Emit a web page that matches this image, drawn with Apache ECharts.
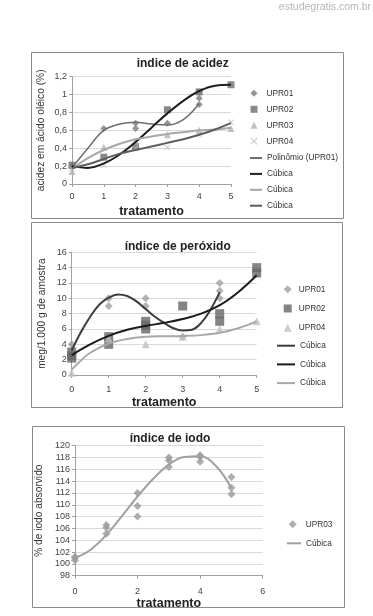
<!DOCTYPE html>
<html><head><meta charset="utf-8">
<script src="https://cdn.jsdelivr.net/npm/echarts@6/dist/echarts.min.js"></script>
<style>html,body{margin:0;padding:0;background:#fff}#c{width:373px;height:616px}</style>
</head><body><div id="c"></div>
<script>
// ---------- Chart 1: índice de acidez ----------
const acidUPR01 = [[0,0.19],[1,0.62],[2,0.68],[2,0.62],[3,0.68],[4,0.96],[4,0.89]];
const acidUPR02 = [[0,0.21],[1,0.30],[2,0.42],[3,0.83],[4,1.03],[5,1.11]];
const acidUPR03 = [[0,0.14],[1,0.41],[2,0.48],[3,0.55],[4,0.60],[5,0.62]];
const acidUPR04 = [[0,0.17],[1,0.21],[2,0.40],[3,0.41],[4,0.55],[5,0.69]];
const acidFitUPR01 = [[0,0.18],[0.5,0.40],[1,0.60],[1.5,0.67],[2,0.69],[2.5,0.67],[3,0.66],[3.5,0.72],[4,0.90]];
const acidFitUPR02 = [[0,0.20],[0.5,0.18],[1,0.23],[1.5,0.33],[2,0.47],[2.5,0.63],[3,0.79],[3.5,0.93],[4,1.04],[4.5,1.10],[5,1.11]];
const acidFitUPR03 = [[0,0.17],[0.5,0.29],[1,0.38],[1.5,0.45],[2,0.50],[2.5,0.53],[3,0.56],[3.5,0.58],[4,0.60],[4.5,0.61],[5,0.63]];
const acidFitUPR04 = [[0,0.18],[0.5,0.22],[1,0.28],[1.5,0.34],[2,0.38],[2.5,0.42],[3,0.46],[3.5,0.50],[4,0.55],[4.5,0.61],[5,0.68]];

// ---------- Chart 2: índice de peróxido ----------
const peroxUPR01 = [[0,4],[1,10],[1,9],[2,10],[2,9],[3,5],[4,12],[4,11],[4,10]];
const peroxUPR02 = [[0,3],[0,2.5],[0,2.2],[1,5],[1,4],[2,7],[2,6.5],[2,6],[3,9],[4,8],[4,7],[5,14],[5,13.3]];
const peroxUPR04 = [[0,0.3],[1,4.8],[2,4],[3,5],[4,6],[5,7]];
const peroxFitUPR01 = [[0,3.2],[0.25,5.6],[0.5,7.6],[0.75,9.2],[1,10.1],[1.25,10.5],[1.5,10.3],[1.75,9.6],[2,8.6],[2.25,7.6],[2.5,6.8],[2.75,6.1],[3,5.8],[3.25,5.9],[3.5,6.8],[3.75,8.5],[4,10.8]];
const peroxFitUPR02 = [[0,2.6],[0.5,4.0],[1,5.1],[1.5,5.9],[2,6.4],[2.5,6.8],[3,7.3],[3.5,8.0],[4,9.1],[4.5,10.8],[5,13.0]];
const peroxFitUPR04 = [[0,0.7],[0.25,1.9],[0.5,2.9],[1,4.1],[1.5,4.7],[2,5.0],[2.5,5.05],[3,5.1],[3.5,5.2],[4,5.5],[4.5,6.1],[5,7.0]];

// ---------- Chart 3: índice de iodo ----------
const iodoUPR03 = [[0,101.2],[0,100.6],[0,101.0],[1,106.6],[1,106.1],[1,105.1],[2,112],[2,109.8],[2,108],[3,118],[3,117.5],[3,116.4],[4,118.4],[4,118.1],[4,117.3],[5,114.7],[5,112.9],[5,111.8]];
const iodoFit = [[0,101],[0.5,102.4],[1,104.9],[1.5,108.1],[2,111.4],[2.5,114.4],[3,116.8],[3.5,118.1],[4,118.2],[4.5,116.6],[5,112.8]];

// tick settings
const acidYTicks = {min:0, max:1.2, interval:0.2};
const peroxYTicks = {min:0, max:16, interval:2};
const iodoYTicks = {min:98, max:120, interval:2};

const FONT = 'Liberation Sans, Arial, sans-serif';
const crossPath = 'path://M0,1 L1,0 L5,4 L9,0 L10,1 L6,5 L10,9 L9,10 L5,6 L1,10 L0,9 L4,5 Z';

function xAx(gi, max, interval, gap, margin){
  return {type:'value', gridIndex:gi, min:0, max:max, interval:interval,
    name:'tratamento', nameLocation:'middle', nameGap:gap,
    nameTextStyle:{fontFamily:FONT, fontSize:12.5, fontWeight:'bold', color:'#222'},
    axisLine:{show:true, onZero:false, lineStyle:{color:'#a0a0a0'}},
    axisTick:{show:true, length:3, lineStyle:{color:'#a0a0a0'}},
    axisLabel:{fontFamily:FONT, fontSize:9, color:'#444', margin:margin},
    splitLine:{show:false}};
}
function yAx(gi, t, name, gap, fmt){
  return {type:'value', gridIndex:gi, min:t.min, max:t.max, interval:t.interval,
    name:name, nameLocation:'middle', nameGap:gap,
    nameTextStyle:{fontFamily:FONT, fontSize:10.2, color:'#333'},
    axisLine:{show:true, lineStyle:{color:'#a0a0a0'}},
    axisTick:{show:true, length:3, lineStyle:{color:'#a0a0a0'}},
    axisLabel:{fontFamily:FONT, fontSize:9, color:'#444', margin:5, formatter:fmt},
    splitLine:{show:true, lineStyle:{color:'#d9d9d9'}}};
}
function sc(name, gi, data, symbol, size, color){
  return {type:'scatter', name:name, xAxisIndex:gi, yAxisIndex:gi, data:data,
    symbol:symbol, symbolSize:size, itemStyle:{color:color}};
}
function ln(name, gi, data, color, w){
  return {type:'line', name:name, xAxisIndex:gi, yAxisIndex:gi, data:data,
    smooth:0.4, symbol:'none', showSymbol:false, lineStyle:{color:color, width:w}, itemStyle:{color:color}};
}
const legFmt = n => n.trim();
function legMarks(left, top, size, gap, pad, names){
  return {orient:'vertical', left:left, top:top, padding:0, itemWidth:size, itemHeight:size, itemGap:gap,
    textStyle:{fontFamily:FONT, fontSize:8.3, color:'#333', lineHeight:12, padding:[0,0,0,pad]},
    formatter:legFmt, data:names};
}
function legLines(left, top, w, gap, names){
  return {orient:'vertical', left:left, top:top, padding:0, itemWidth:w, itemHeight:2, itemGap:gap, icon:'rect',
    textStyle:{fontFamily:FONT, fontSize:8.3, color:'#333', lineHeight:12},
    formatter:legFmt, data:names};
}

const option = {
  backgroundColor:'#ffffff',
  animation:false,
  grid:[
    {left:72, top:76.7, width:159, height:107.3},
    {left:71.7, top:252.3, width:185, height:122.7},
    {left:75, top:445.7, width:187.7, height:130}
  ],
  xAxis:[ xAx(0,5,1,21,8), xAx(1,5,1,21,10), xAx(2,6,2,20,11) ],
  yAxis:[
    yAx(0, acidYTicks, 'acidez em ácido oléico (%)', 26, v => String(+v.toFixed(1)).replace('.', ',')),
    yAx(1, peroxYTicks, 'meg/1.000 g de amostra', 25),
    yAx(2, iodoYTicks, '% de iodo absorvido', 28)
  ],
  legend:[
    legMarks(250.5, 87.3, 7, 4, 4, ['UPR01','UPR02','UPR03','UPR04']),
    legLines(250, 152, 12, 3.9, ['Polinômio (UPR01)','Cúbica','Cúbica ','Cúbica  ']),
    legMarks(283.7, 283.3, 8, 7.2, 2, ['UPR01 ','UPR02 ','UPR04 ']),
    legLines(277, 339.7, 18, 6.7, ['Cúbica   ','Cúbica    ','Cúbica     ']),
    legMarks(288.7, 518.3, 8, 7, 4, ['UPR03 ']),
    legLines(287, 537.3, 14, 7, ['Cúbica      '])
  ],
  graphic:[
    {type:'rect', z:-1, shape:{x:31.5, y:52.5, width:312, height:166}, style:{fill:'#fff', stroke:'#8a8a8a', lineWidth:1}},
    {type:'rect', z:-1, shape:{x:31.5, y:222.5, width:311, height:185}, style:{fill:'#fff', stroke:'#8a8a8a', lineWidth:1}},
    {type:'rect', z:-1, shape:{x:32.5, y:426.5, width:312, height:181}, style:{fill:'#fff', stroke:'#8a8a8a', lineWidth:1}},
    {type:'text', x:182.7, y:63.5, style:{text:'indice de acidez', font:'bold 12px '+FONT, fill:'#222', textAlign:'center', textVerticalAlign:'middle'}},
    {type:'text', x:177.7, y:247, style:{text:'índice de peróxido', font:'bold 12px '+FONT, fill:'#222', textAlign:'center', textVerticalAlign:'middle'}},
    {type:'text', x:170, y:438.5, style:{text:'índice de iodo', font:'bold 12px '+FONT, fill:'#222', textAlign:'center', textVerticalAlign:'middle'}},
    {type:'text', x:371, y:7, style:{text:'estudegratis.com.br', font:'10.5px '+FONT, fill:'#b5b5b5', textAlign:'right', textVerticalAlign:'middle'}}
  ],
  series:[
    sc('UPR01',0,acidUPR01,'diamond',7,'#7a7a7a'),
    sc('UPR02',0,acidUPR02,'rect',7,'#6b6b6b'),
    sc('UPR03',0,acidUPR03,'triangle',7,'#b2b2b2'),
    sc('UPR04',0,acidUPR04,crossPath,6,'#bcbcbc'),
    ln('Polinômio (UPR01)',0,acidFitUPR01,'#6e6e6e',1.5),
    ln('Cúbica',0,acidFitUPR02,'#1e1e1e',2),
    ln('Cúbica ',0,acidFitUPR03,'#a8a8a8',2),
    ln('Cúbica  ',0,acidFitUPR04,'#5e5e5e',2),

    sc('UPR01 ',1,peroxUPR01,'diamond',8,'#a0a0a0'),
    sc('UPR02 ',1,peroxUPR02,'rect',9,'#666666'),
    sc('UPR04 ',1,peroxUPR04,'triangle',8,'#c0c0c0'),
    ln('Cúbica   ',1,peroxFitUPR01,'#3c3c3c',2),
    ln('Cúbica    ',1,peroxFitUPR02,'#1a1a1a',2),
    ln('Cúbica     ',1,peroxFitUPR04,'#a8a8a8',2),

    sc('UPR03 ',2,iodoUPR03,'diamond',8,'#9a9a9a'),
    ln('Cúbica      ',2,iodoFit,'#a0a0a0',2)
  ]
};
const chart = echarts.init(document.getElementById('c'), null, {renderer:'canvas'});
chart.setOption(option);
</script></body></html>
